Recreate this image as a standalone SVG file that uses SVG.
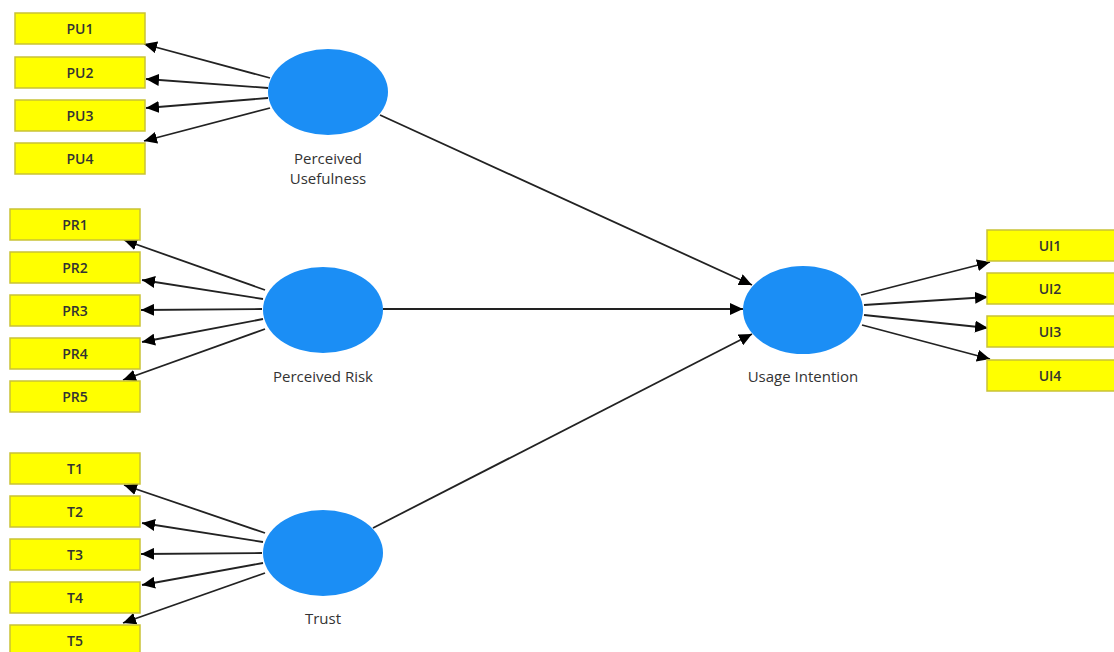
<svg xmlns="http://www.w3.org/2000/svg" width="1114" height="652" viewBox="0 0 1114 652">
<style>
.ind rect{fill:#FFFF00;stroke:#C9C236;stroke-width:1.5}
.ind text{font-family:"Open Sans","Noto Sans",sans-serif;font-size:14px;font-weight:600;fill:#333;text-anchor:middle}
.lat ellipse{fill:#1B8EF5}
.lat text{font-family:"Open Sans","Noto Sans",sans-serif;font-size:15px;fill:#333;text-anchor:middle}
.conn line{stroke:#222;stroke-width:1.8;marker-end:url(#ah)}
</style>
<defs>
<marker id="ah" markerUnits="userSpaceOnUse" markerWidth="14" markerHeight="12" refX="13" refY="6" orient="auto">
<path d="M0,0 L13,6 L0,12 Z" fill="#000"/>
</marker>
</defs>
<rect width="1114" height="652" fill="#fff"/>
<g class="conn">
<line x1="270" y1="78" x2="144" y2="44"/>
<line x1="268" y1="88" x2="146" y2="79"/>
<line x1="268" y1="98" x2="146" y2="108"/>
<line x1="270" y1="108" x2="144" y2="141"/>
<line x1="265" y1="290" x2="124" y2="240"/>
<line x1="263" y1="299" x2="142" y2="280"/>
<line x1="262" y1="309" x2="141" y2="310"/>
<line x1="263" y1="319" x2="142" y2="342"/>
<line x1="265" y1="329" x2="123" y2="380"/>
<line x1="265" y1="533" x2="124" y2="485"/>
<line x1="263" y1="542" x2="142" y2="523"/>
<line x1="262" y1="553" x2="141" y2="554"/>
<line x1="263" y1="563" x2="142" y2="585"/>
<line x1="265" y1="573" x2="123" y2="623"/>
<line x1="380" y1="115" x2="752" y2="285"/>
<line x1="383" y1="309" x2="743" y2="309"/>
<line x1="373" y1="528" x2="752" y2="334"/>
<line x1="861" y1="295" x2="990" y2="262"/>
<line x1="864" y1="305" x2="988" y2="297"/>
<line x1="864" y1="315" x2="988" y2="328"/>
<line x1="862" y1="325" x2="990" y2="359"/>
</g>
<g id="PU1" class="ind"><rect x="15" y="13" width="130" height="31"/><text x="80" y="34">PU1</text></g>
<g id="PU2" class="ind"><rect x="15" y="57" width="130" height="31"/><text x="80" y="78">PU2</text></g>
<g id="PU3" class="ind"><rect x="15" y="100" width="130" height="31"/><text x="80" y="121">PU3</text></g>
<g id="PU4" class="ind"><rect x="15" y="143" width="130" height="31"/><text x="80" y="164">PU4</text></g>
<g id="PR1" class="ind"><rect x="10" y="209" width="130" height="31"/><text x="75" y="230">PR1</text></g>
<g id="PR2" class="ind"><rect x="10" y="252" width="130" height="31"/><text x="75" y="273">PR2</text></g>
<g id="PR3" class="ind"><rect x="10" y="295" width="130" height="31"/><text x="75" y="316">PR3</text></g>
<g id="PR4" class="ind"><rect x="10" y="338" width="130" height="31"/><text x="75" y="359">PR4</text></g>
<g id="PR5" class="ind"><rect x="10" y="381" width="130" height="31"/><text x="75" y="402">PR5</text></g>
<g id="T1" class="ind"><rect x="10" y="453" width="130" height="31"/><text x="75" y="474">T1</text></g>
<g id="T2" class="ind"><rect x="10" y="496" width="130" height="31"/><text x="75" y="517">T2</text></g>
<g id="T3" class="ind"><rect x="10" y="539" width="130" height="31"/><text x="75" y="560">T3</text></g>
<g id="T4" class="ind"><rect x="10" y="582" width="130" height="31"/><text x="75" y="603">T4</text></g>
<g id="T5" class="ind"><rect x="10" y="625" width="130" height="31"/><text x="75" y="646">T5</text></g>
<g id="UI1" class="ind"><rect x="987" y="230" width="130" height="31"/><text x="1050" y="251">UI1</text></g>
<g id="UI2" class="ind"><rect x="987" y="273" width="130" height="31"/><text x="1050" y="294">UI2</text></g>
<g id="UI3" class="ind"><rect x="987" y="316" width="130" height="31"/><text x="1050" y="337">UI3</text></g>
<g id="UI4" class="ind"><rect x="987" y="360" width="130" height="31"/><text x="1050" y="381">UI4</text></g>
<g id="PU" class="lat"><ellipse cx="328" cy="92" rx="60" ry="43"/><text x="328" y="164">Perceived</text><text x="328" y="184">Usefulness</text></g>
<g id="PR" class="lat"><ellipse cx="323" cy="310" rx="60" ry="43"/><text x="323" y="382">Perceived Risk</text></g>
<g id="TR" class="lat"><ellipse cx="323" cy="553" rx="60" ry="43"/><text x="323" y="624">Trust</text></g>
<g id="UI" class="lat"><ellipse cx="803" cy="310" rx="60" ry="44"/><text x="803" y="382">Usage Intention</text></g>
</svg>
